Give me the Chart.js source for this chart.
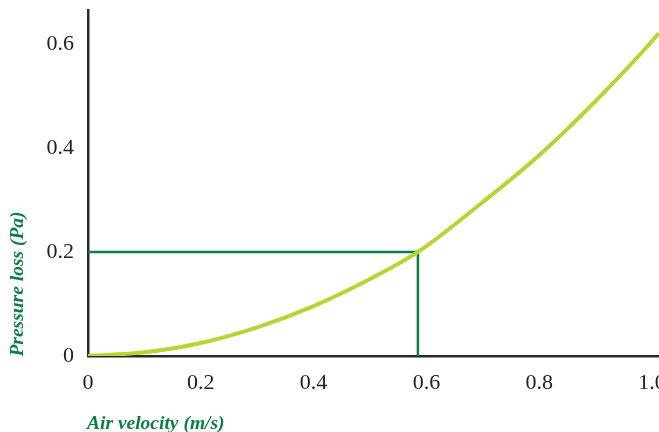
<!DOCTYPE html>
<html>
<head>
<meta charset="utf-8">
<script src="https://cdn.jsdelivr.net/npm/chart.js@4"></script>
<style>
  html, body { margin: 0; padding: 0; overflow: hidden; background: #fff; }
  #wrap { width: 720px; height: 432px; }
</style>
</head>
<body>
<div id="wrap"><canvas id="chart" width="720" height="432"></canvas></div>
<script>
// air velocity (m/s) and pressure loss (Pa)
const velocity = [0, 0.1, 0.2, 0.3, 0.4, 0.5, 0.585, 0.7, 0.8, 0.9, 1.0, 1.012];
const pressureLoss = [0, 0.007, 0.025, 0.055, 0.096, 0.148, 0.2, 0.296, 0.386, 0.49, 0.605, 0.62];

// the marked reading: 0.2 Pa at about 0.585 m/s
const markVelocity = [0, 0.585, 0.585];
const markLoss = [0.2, 0.2, 0];

const xTicks = [0, 0.2, 0.4, 0.6, 0.8, 1.0];
const xTickLabels = ["0", "0.2", "0.4", "0.6", "0.8", "1.0"];
const yTicks = [0, 0.2, 0.4, 0.6];
const yTickLabels = ["0", "0.2", "0.4", "0.6"];

const green = "#0b7f43";
const lime = "#b8d432";
const tickFont = { family: "'Liberation Serif', 'DejaVu Serif', serif", size: 22 };

// axis titles sit where they are in the picture, not centred on the axes
const axisTitles = {
  id: "axisTitles",
  afterDraw(chart) {
    const ctx = chart.ctx;
    ctx.save();
    ctx.fillStyle = green;
    ctx.font = "italic bold 19.5px 'Liberation Serif', serif";
    ctx.textBaseline = "middle";
    ctx.textAlign = "left";
    ctx.fillText("Air velocity (m/s)", 87, 424);
    ctx.translate(18, 284);
    ctx.rotate(-Math.PI / 2);
    ctx.textAlign = "center";
    ctx.fillText("Pressure loss (Pa)", 0, 0);
    ctx.restore();
  }
};

new Chart(document.getElementById("chart"), {
  type: "line",
  data: {
    datasets: [
      {
        data: velocity.map((v, i) => ({ x: v, y: pressureLoss[i] })),
        borderColor: lime,
        borderWidth: 4,
        pointRadius: 0,
        cubicInterpolationMode: "monotone",
        order: 1
      },
      {
        data: markVelocity.map((v, i) => ({ x: v, y: markLoss[i] })),
        borderColor: green,
        borderWidth: 2.5,
        pointRadius: 0,
        tension: 0,
        order: 2
      }
    ]
  },
  options: {
    responsive: false,
    animation: false,
    layout: { padding: { top: 10, right: 0, left: 0, bottom: 0 } },
    plugins: { legend: { display: false }, tooltip: { enabled: false } },
    scales: {
      x: {
        type: "linear",
        min: 0,
        max: 1.1206,
        grid: { display: false, drawTicks: false },
        border: { display: true, color: "#2a2a2a", width: 2.5 },
        afterBuildTicks: (axis) => { axis.ticks = xTicks.map((v) => ({ value: v })); },
        afterFit: (axis) => {
          axis.height = 76;
          axis.paddingLeft = 0;
          axis.paddingRight = 0;
        },
        ticks: {
          padding: 14,
          color: "#222",
          font: tickFont,
          maxRotation: 0,
          autoSkip: false,
          callback: (v) => xTickLabels[xTicks.indexOf(v)]
        }
      },
      y: {
        type: "linear",
        min: 0,
        max: 0.665,
        grid: { display: false, drawTicks: false },
        border: { display: true, color: "#2a2a2a", width: 2.5 },
        afterBuildTicks: (axis) => { axis.ticks = yTicks.map((v) => ({ value: v })); },
        afterFit: (axis) => {
          axis.width = 88;
          axis.paddingTop = 0;
          axis.paddingBottom = 0;
        },
        ticks: {
          padding: 14,
          color: "#222",
          font: tickFont,
          autoSkip: false,
          callback: (v) => yTickLabels[yTicks.indexOf(v)]
        }
      }
    }
  },
  plugins: [axisTitles]
});
</script>
</body>
</html>
